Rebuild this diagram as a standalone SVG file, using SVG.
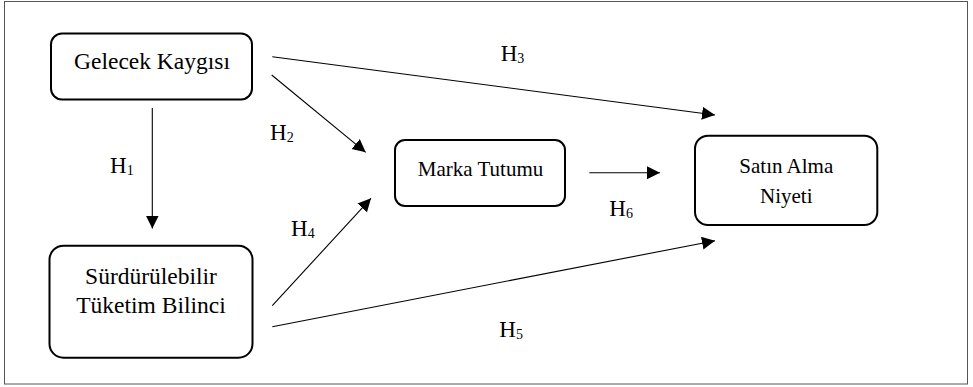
<svg xmlns="http://www.w3.org/2000/svg" width="973" height="387" viewBox="0 0 973 387">
<style>
.box{fill:#fff;stroke:#000;stroke-width:2}
.big{font-family:'Liberation Serif','Times New Roman',serif;font-size:23.5px;fill:#000;text-anchor:middle}
.mid{font-family:'Liberation Serif','Times New Roman',serif;font-size:21px;fill:#000;text-anchor:middle}
.lbl{font-family:'Liberation Serif','Times New Roman',serif;font-size:23px;fill:#000}
.sub{font-size:14px}
.con{stroke:#000;stroke-width:1.1;fill:none;marker-end:url(#ah)}
</style>
<defs>
<marker id="ah" markerUnits="userSpaceOnUse" markerWidth="14" markerHeight="14" refX="13" refY="6.5" orient="auto">
<path d="M0,0 L13,6.5 L0,13 Z" fill="#000"/>
</marker>
</defs>
<rect x="0" y="0" width="973" height="387" fill="#fff"/>
<rect x="4.5" y="1.5" width="963" height="382.5" fill="none" stroke="#555" stroke-width="1"/>
<g id="connectors">
<line class="con" x1="152.3" y1="108" x2="152.3" y2="228.5"/>
<line class="con" x1="271.7" y1="75" x2="365.7" y2="152.3"/>
<line class="con" x1="272.3" y1="56.7" x2="715" y2="115"/>
<line class="con" x1="272.3" y1="305.7" x2="371" y2="198.3"/>
<line class="con" x1="272.3" y1="326.7" x2="715" y2="240.7"/>
<line class="con" x1="589.3" y1="172.7" x2="660" y2="172.7"/>
</g>
<g id="labels">
<text class="lbl" x="110" y="173">H<tspan class="sub" dy="2">1</tspan></text>
<text class="lbl" x="270" y="140">H<tspan class="sub" dy="2">2</tspan></text>
<text class="lbl" x="500.7" y="61">H<tspan class="sub" dy="2">3</tspan></text>
<text class="lbl" x="291" y="236">H<tspan class="sub" dy="2">4</tspan></text>
<text class="lbl" x="499.3" y="336.7">H<tspan class="sub" dy="2">5</tspan></text>
<text class="lbl" x="609.3" y="216">H<tspan class="sub" dy="2">6</tspan></text>
</g>
<g id="gelecek-kaygisi">
<rect class="box" x="51" y="33.5" width="201" height="66" rx="11"/>
<text class="big" x="152" y="69">Gelecek Kaygısı</text>
</g>
<g id="surdurulebilir-tuketim-bilinci">
<rect class="box" x="49.5" y="245.7" width="203" height="112" rx="14"/>
<text class="big" x="151" y="284">Sürdürülebilir</text>
<text class="big" x="151" y="313.3">Tüketim Bilinci</text>
</g>
<g id="marka-tutumu">
<rect class="box" x="395" y="140" width="170" height="66" rx="10"/>
<text class="mid" x="480.5" y="176">Marka Tutumu</text>
</g>
<g id="satin-alma-niyeti">
<rect class="box" x="695" y="135.7" width="182.3" height="89.3" rx="13"/>
<text class="mid" x="786.3" y="173.3">Satın Alma</text>
<text class="mid" x="786.3" y="202.5">Niyeti</text>
</g>
</svg>
